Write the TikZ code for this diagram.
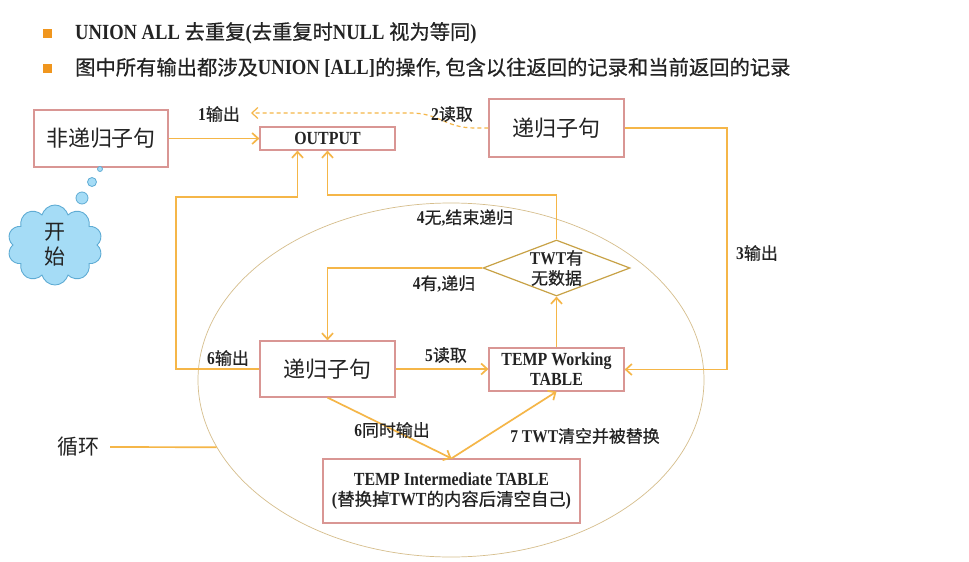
\documentclass[tikz,border=0pt]{standalone}
\usepackage{fontspec}
\setmainfont{Liberation Serif}
\newfontfamily\latb{Liberation Serif}[FakeStretch=0.86,UprightFont={* Bold}]
\newfontfamily\cjk{Noto Sans CJK SC}[Scale=0.94]
\newfontfamily\cjkb{Noto Sans CJK SC}[Scale=0.94,FakeBold=0.6]
\newcommand\ZH[1]{{\cjk #1}}
\newcommand\ZB[1]{{\cjkb #1}}
\newcommand\LA[1]{{\latb #1}}
\usetikzlibrary{arrows.meta,shapes.geometric,shapes.symbols,calc}
\definecolor{lineor}{RGB}{245,182,72}
\definecolor{boxred}{RGB}{217,150,148}
\definecolor{diac}{RGB}{200,162,70}
\definecolor{ellc}{RGB}{214,190,140}
\definecolor{bul}{RGB}{240,150,30}
\definecolor{txt}{RGB}{35,35,35}
\definecolor{cloudf}{RGB}{165,220,246}
\definecolor{cloudb}{RGB}{95,172,212}
\tikzset{
  flow/.style={draw=lineor, line width=1.7pt},
  arr/.style={flow, -{Straight Barb[length=6pt,width=11pt]}},
  box/.style={draw=boxred, line width=1.2pt, inner sep=0pt, align=center, text=txt},
  lbl/.style={font=\fontsize{18}{21}\selectfont, text=txt, inner sep=0pt},
  bigcjk/.style={font=\fontsize{23.4}{27}\selectfont},
  boxlat/.style={font=\fontsize{18.5}{20}\selectfont},
  bubble/.style={circle, draw=cloudb, fill=cloudf, line width=0.8pt, inner sep=0pt},
}
\begin{document}
\begin{tikzpicture}[x=1pt,y=-1pt]
\useasboundingbox[fill=white] (0,0) rectangle (969,562);

% bullets
\node[fill=bul, minimum size=9pt, inner sep=0pt] (b1) at (47,33) {};
\node[fill=bul, minimum size=9pt, inner sep=0pt] (b2) at (47,68) {};
\node[anchor=west, font=\fontsize{21.6}{26}\selectfont, text=txt, inner sep=0pt] (t1) at (75,33)
  {\LA{UNION ALL }\ZB{去重复}\LA{(}\ZB{去重复时}\LA{NULL }\ZB{视为等同}\LA{)}};
\node[anchor=west, font=\fontsize{21.6}{26}\selectfont, text=txt, inner sep=0pt] (t2) at (75,68)
  {\ZB{图中所有输出都涉及}\LA{UNION [ALL]}\ZB{的操作}\LA{, }\ZB{包含以往返回的记录和当前返回的记录}};

% loop ellipse
\node[ellipse, draw=ellc, line width=0.7pt, minimum width=506pt, minimum height=354pt, inner sep=0pt] (ell) at (451,380) {};

% boxes
\node[box, bigcjk, minimum width=134pt, minimum height=57pt] (n1) at (101,138.5) {\ZH{非递归子句}};
\node[box, boxlat, minimum width=135pt, minimum height=23pt] (out) at (327.5,138.5) {\LA{OUTPUT}};
\node[box, bigcjk, minimum width=135pt, minimum height=58pt] (r1) at (556.5,128) {\ZH{递归子句}};
\node[box, bigcjk, minimum width=135pt, minimum height=56pt] (r2) at (327.5,369) {\ZH{递归子句}};
\node[box, boxlat, minimum width=135pt, minimum height=43pt] (twt) at (556.5,369.5) {\LA{TEMP Working}\\\LA{TABLE}};
\node[box, boxlat, minimum width=257pt, minimum height=64pt] (inter) at (451.5,491)
  {\LA{TEMP Intermediate TABLE}\\\LA{(}\ZB{替换掉}\LA{TWT}\ZB{的内容后清空自己}\LA{)}};
\node[diamond, draw=diac, line width=1.2pt, minimum width=147pt, minimum height=56pt, inner sep=0pt,
  label={[lbl, align=center, font=\fontsize{18}{20}\selectfont]center:\LA{TWT}\ZB{有}\\\ZB{无数据}}] (dia) at (556.5,268) {};

% cloud
\node[cloud, cloud puffs=10, cloud ignores aspect, draw=cloudb, fill=cloudf, line width=0.9pt,
  minimum width=95pt, minimum height=80pt, inner sep=0pt, align=center, text=txt,
  font=\fontsize{22.3}{25}\selectfont] (start) at (55,245) {\ZH{开}\\\ZH{始}};
\node[bubble, minimum size=5pt] (bb1) at (100,169) {};
\node[bubble, minimum size=9pt] (bb2) at (92,182) {};
\node[bubble, minimum size=12pt] (bb3) at (82,198) {};

% helper coordinates
\coordinate (c1) at (251,113);
\coordinate (xr) at (727,0);
\coordinate (xl) at (176,0);
\coordinate (yl) at (0,197);
\coordinate (y2) at (0,195);
\coordinate (o2) at ($(out.south)+(-30,0)$);

% connectors
\draw[arr] (n1.east) -- (out.west);
\draw[arr, dash pattern=on 4pt off 3pt, line width=1.2pt] (r1.west) -- (475,128) .. controls (445,128) and (440,113) .. (410,113) -- (c1);
\draw[arr] (r1.east) -- (xr |- r1.east) -- (xr |- twt.east) -- (twt.east);
\draw[arr] (twt.north) -- (dia.south);
\draw[arr] (dia.north) -- (dia.north |- y2) -- (out.south |- y2) -- (out.south);
\draw[arr] (r2.west) -- (xl |- r2.west) -- (xl |- yl) -- (o2 |- yl) -- (o2);
\draw[arr] (dia.west) -| (r2.north);
\draw[arr] (r2.east) -- (twt.west |- r2.east);
\draw[arr] (r2.south) -- (inter.north);
\draw[arr] (inter.north) -- (twt.south);

% loop label
\node[font=\fontsize{22.3}{26}\selectfont, text=txt, inner sep=0pt] (lp) at (78,447) {\ZH{循环}};
\draw[flow, shorten <=11pt] (lp.east) -- (ell.196);

% connector labels
\node[lbl] (l1) at (219,114) {\LA{1}\ZB{输出}};
\node[lbl] (l2) at (452,114) {\LA{2}\ZB{读取}};
\node[lbl] (l3) at (757,253) {\LA{3}\ZB{输出}};
\node[lbl] (l4a) at (465,218) {\LA{4}\ZB{无}\LA{,}\ZB{结束递归}};
\node[lbl] (l4b) at (444,284) {\LA{4}\ZB{有}\LA{,}\ZB{递归}};
\node[lbl] (l6) at (228,358) {\LA{6}\ZB{输出}};
\node[lbl] (l5) at (446,355) {\LA{5}\ZB{读取}};
\node[lbl] (l6b) at (392,430) {\LA{6}\ZB{同时输出}};
\node[lbl] (l7) at (585,436) {\LA{7 TWT}\ZB{清空并被替换}};
\end{tikzpicture}
\end{document}
